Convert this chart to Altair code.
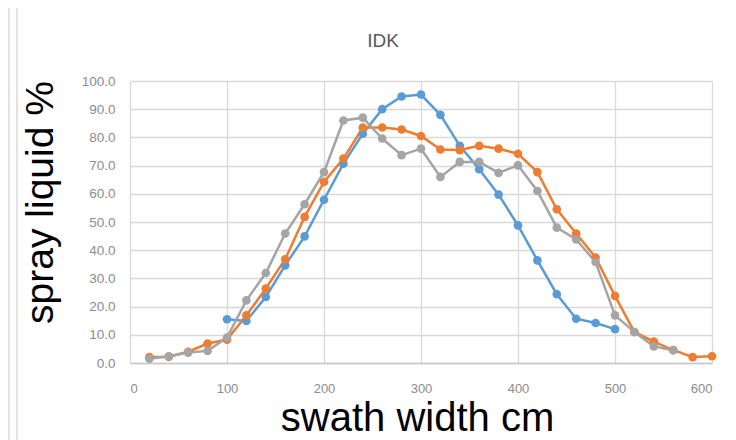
import altair as alt
import pandas as pd

chart_title = "IDK"
x_title = "swath width cm"
y_title = "spray liquid %"
top_text = "swath width cm"

series_names = ["Series1", "Series2", "Series3"]
series_colors = ["#5B9BD5", "#ED7D31", "#A5A5A5"]

blue_x = [100, 120, 140, 160, 180, 200, 220, 240, 260, 280, 300,
          320, 340, 360, 380, 400, 420, 440, 460, 480, 500]
blue_y = [15.5, 14.9, 23.4, 34.6, 44.9, 57.9, 70.7, 81.3, 90.0, 94.5, 95.2,
          88.0, 77.0, 68.7, 59.7, 48.8, 36.4, 24.4, 15.7, 14.2, 12.0]

orange_x = [20, 40, 60, 80, 100, 120, 140, 160, 180, 200, 220, 240, 260, 280, 300,
            320, 340, 360, 380, 400, 420, 440, 460, 480, 500, 520, 540, 560, 580, 600]
orange_y = [2.1, 2.2, 4.0, 6.9, 8.3, 16.9, 26.4, 36.8, 51.8, 64.2, 72.5, 83.5, 83.5, 82.8, 80.5,
            75.7, 75.5, 77.0, 76.0, 74.2, 67.7, 54.5, 45.9, 37.4, 23.8, 11.0, 7.6, 4.6, 2.1, 2.4]

gray_x = [20, 40, 60, 80, 100, 120, 140, 160, 180, 200, 220, 240, 260, 280,
          300, 320, 340, 360, 380, 400, 420, 440, 460, 480, 500, 520, 540, 560]
gray_y = [1.5, 2.4, 3.7, 4.3, 9.0, 22.2, 31.9, 45.9, 56.3, 67.7, 86.0, 87.0, 79.6, 73.7,
          76.0, 66.0, 71.3, 71.3, 67.4, 70.1, 61.0, 48.0, 43.8, 35.8, 16.9, 11.0, 5.9, 4.5]

x_ticks = [0, 100, 200, 300, 400, 500, 600]
y_ticks = [0, 10, 20, 30, 40, 50, 60, 70, 80, 90, 100]

rows = []
for name, xs, ys in [(series_names[0], blue_x, blue_y),
                     (series_names[1], orange_x, orange_y),
                     (series_names[2], gray_x, gray_y)]:
    for xv, yv in zip(xs, ys):
        rows.append({"series": name, "x": xv, "y": yv})
df = pd.DataFrame(rows)

FONT = "Liberation Sans"

x_enc = alt.X("x:Q",
              scale=alt.Scale(domain=[0, 600], nice=False),
              axis=alt.Axis(values=x_ticks, grid=True, gridColor="#d9d9d9", gridWidth=1.3,
                            domain=True, domainColor="#c8c8c8", domainWidth=1.3,
                            ticks=False, labelPadding=19, labelFontSize=13,
                            labelColor="#8c8c8c", labelFont=FONT, labelOverlap=False,
                            title=x_title, titleFont=FONT, titleFontSize=40,
                            titleFontWeight="normal", titleColor="#000000",
                            titleX=287, titleY=67, titleAlign="center",
                            titleBaseline="alphabetic"))
y_enc = alt.Y("y:Q",
              scale=alt.Scale(domain=[0, 100], nice=False),
              axis=alt.Axis(values=y_ticks, format=".1f", grid=True, gridColor="#d9d9d9",
                            gridWidth=1.3, domain=False, ticks=False, labelPadding=15,
                            labelFontSize=13.5, labelColor="#8c8c8c", labelFont=FONT,
                            labelOverlap=False, tickCount=11,
                            title=y_title, titleFont=FONT, titleFontSize=39,
                            titleFontWeight="normal", titleColor="#000000",
                            titleX=-78, titleY=121, titleAlign="center",
                            titleBaseline="alphabetic", titleAngle=270))
color_enc = alt.Color("series:N", scale=alt.Scale(domain=series_names, range=series_colors),
                      legend=None)

base = alt.Chart(df).encode(x=x_enc, y=y_enc, color=color_enc)
lines = base.mark_line(strokeWidth=2.5)
points = base.mark_circle(size=75, opacity=1)

title_df = pd.DataFrame({"t": [chart_title]})
title_mark = alt.Chart(title_df).mark_text(
    font=FONT, fontSize=19, color="#595959", baseline="alphabetic", align="center"
).encode(text="t:N", x=alt.value(253), y=alt.value(-34))

top_df = pd.DataFrame({"t": [top_text]})
top_mark = alt.Chart(top_df).mark_text(
    font=FONT, fontSize=40, color="#000000", baseline="alphabetic", align="center"
).encode(text="t:N", x=alt.value(301), y=alt.value(-74))

border1 = alt.Chart(title_df).mark_rule(color="#e3e3e3", strokeWidth=2).encode(
    x=alt.value(-121), y=alt.value(-73), y2=alt.value(360))
border2 = alt.Chart(title_df).mark_rule(color="#e3e3e3", strokeWidth=2).encode(
    x=alt.value(-113), y=alt.value(-73), y2=alt.value(360))

chart = alt.layer(lines, points, border1, border2, title_mark, top_mark).properties(
    width=582, height=282,
    autosize=alt.AutoSizeParams(type="none"),
    padding={"left": 122, "top": 73, "right": 14, "bottom": 77},
).configure_view(stroke=None).configure_axis(labelOverlap=False)

chart.save("out.html", embed_options={"renderer": "svg", "actions": False})
